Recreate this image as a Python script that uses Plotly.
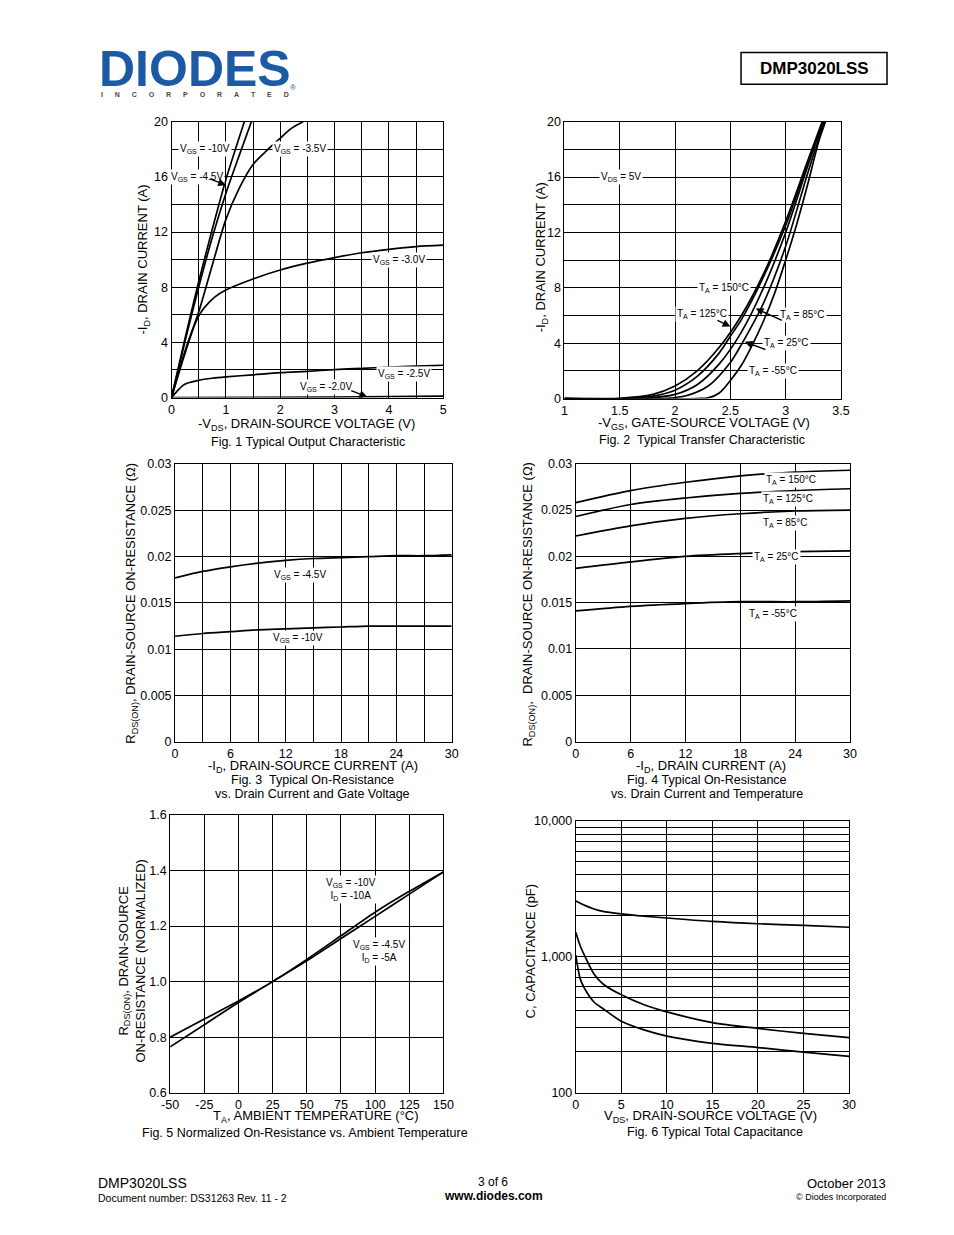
import plotly.graph_objects as go

PAGE_W, PAGE_H = 954, 1235
OFF = 8  # default body margin of the html page
W, H = PAGE_W - 2 * OFF, PAGE_H - 2 * OFF - 6
FONT = "Liberation Sans"

# ---------------- DATA ----------------
# Fig 1: output characteristic (-VDS, -ID)
f1_vgs10_v = [0, 0.25, 0.5, 0.75, 1.0, 1.2, 1.34]
f1_vgs10_i = [0, 4.3, 8.4, 12.2, 15.8, 18.3, 20]
f1_vgs45_v = [0, 0.25, 0.5, 0.75, 1.0, 1.25, 1.47]
f1_vgs45_i = [0, 4.1, 8.0, 11.6, 14.8, 17.6, 20]
f1_vgs35_v = [0, 0.25, 0.5, 0.75, 1.0, 1.25, 1.5, 1.75, 2.0, 2.2, 2.42]
f1_vgs35_i = [0, 3.4, 6.2, 9.6, 12.9, 15.2, 16.9, 17.9, 18.8, 19.5, 20]
f1_vgs30_v = [0, 0.2, 0.4, 0.5, 0.6, 0.8, 1.0, 1.5, 2.0, 2.5, 3.0, 3.5, 4.0, 4.5, 5.0]
f1_vgs30_i = [0, 2.6, 5.0, 5.9, 6.5, 7.3, 7.8, 8.6, 9.25, 9.75, 10.15, 10.5, 10.75, 10.95, 11.05]
f1_vgs25_v = [0, 0.1, 0.2, 0.3, 0.5, 0.75, 1.0, 1.5, 2.0, 2.5, 3.0, 3.5, 4.0, 4.5, 5.0]
f1_vgs25_i = [0, 0.45, 0.85, 1.05, 1.25, 1.4, 1.5, 1.65, 1.8, 1.9, 2.02, 2.12, 2.2, 2.28, 2.34]
f1_vgs20_v = [0, 2.0, 3.0, 4.0, 5.0]
f1_vgs20_i = [0, 0, 0.03, 0.06, 0.1]

# Fig 2: transfer characteristic (-VGS, -ID)
f2_t150_v = [1.0, 1.5, 1.8, 2.0, 2.2, 2.4, 2.6, 2.8, 3.0, 3.2, 3.33]
f2_t150_i = [0, 0.02, 0.3, 0.9, 2.0, 3.7, 6.0, 9.0, 12.8, 17.2, 20]
f2_t125_v = [1.0, 1.6, 1.85, 2.0, 2.2, 2.4, 2.5, 2.6, 2.8, 3.0, 3.2, 3.34]
f2_t125_i = [0, 0.02, 0.25, 0.6, 1.6, 3.3, 4.5, 5.7, 8.8, 12.5, 17.0, 20]
f2_t85_v = [1.0, 1.7, 2.0, 2.2, 2.4, 2.6, 2.8, 3.0, 3.2, 3.34]
f2_t85_i = [0, 0.0, 0.3, 1.0, 2.5, 4.8, 8.0, 12.0, 16.8, 20]
f2_t25_v = [1.0, 1.9, 2.1, 2.3, 2.5, 2.6, 2.8, 3.0, 3.2, 3.35]
f2_t25_i = [0, 0, 0.2, 0.9, 2.6, 3.9, 6.9, 11.0, 16.3, 20]
f2_tm55_v = [1.0, 2.2, 2.3, 2.4, 2.5, 2.6, 2.7, 2.8, 2.9, 3.0, 3.1, 3.2, 3.3, 3.36]
f2_tm55_i = [0, 0, 0.05, 0.4, 1.3, 2.4, 3.9, 5.6, 7.6, 10.0, 12.6, 15.5, 18.6, 20]

# Fig 3: RDS(on) vs ID and VGS
f3_id = [0, 3, 6, 9, 12, 15, 18, 21, 24, 27, 30]
f3_vgs45 = [0.0177, 0.0184, 0.0189, 0.0193, 0.0196, 0.0198, 0.0199, 0.0200, 0.0201, 0.0201, 0.0202]
f3_vgs10 = [0.0114, 0.0117, 0.0119, 0.0121, 0.0122, 0.0123, 0.0124, 0.0125, 0.0125, 0.0125, 0.0125]

# Fig 4: RDS(on) vs ID and temperature
f4_id = [0, 6, 12, 18, 24, 30]
f4_t150 = [0.0258, 0.0271, 0.0280, 0.0287, 0.0291, 0.0293]
f4_t125 = [0.0243, 0.0256, 0.0263, 0.0268, 0.0271, 0.0273]
f4_t85 = [0.0222, 0.0233, 0.0241, 0.0246, 0.0249, 0.0250]
f4_t25 = [0.0187, 0.0194, 0.0200, 0.0203, 0.0205, 0.0206]
f4_tm55 = [0.0141, 0.0146, 0.0149, 0.0151, 0.0151, 0.0152]

# Fig 5: normalized RDS(on) vs ambient temperature
f5_t = [-50, -25, 0, 25, 50, 75, 100, 125, 150]
f5_vgs10 = [0.80, 0.865, 0.93, 1.0, 1.08, 1.165, 1.25, 1.325, 1.395]
f5_vgs45 = [0.765, 0.845, 0.925, 1.0, 1.075, 1.155, 1.235, 1.315, 1.395]

# Fig 6: capacitance vs VDS
f6_v = [0, 0.5, 1, 2, 3, 5, 7.5, 10, 15, 20, 25, 30]
f6_ciss = [2576, 2480, 2390, 2250, 2160, 2070, 1990, 1930, 1820, 1750, 1705, 1650]
f6_coss = [1517, 1200, 1010, 747, 631, 525, 444, 393, 328, 297, 273, 254]
f6_crss = [1030, 685, 580, 465, 415, 336, 290, 261, 231, 215, 199, 185]

# tick labels
f3_yticks = [0, 0.005, 0.01, 0.015, 0.02, 0.025, 0.03]
f3_ytext = ["0", "0.005", "0.01", "0.015", "0.02", "0.025", "0.03"]
f5_xticks = [-50, -25, 0, 25, 50, 75, 100, 125, 150]
f5_xtext = ["-50", "-25", "0", "25", "50", "75", "100", "125", "150"]
f6_yticks = [100, 1000, 10000]
f6_ytext = ["100", "1,000", "10,000"]
f6_yminor = [200, 300, 400, 500, 600, 700, 800, 900,
             2000, 3000, 4000, 5000, 6000, 7000, 8000, 9000]

# ---------------- helpers ----------------
def px(x):
    return (x - OFF) / W


def py(y):
    return 1 - (y - OFF) / H


fig = go.Figure()
LW = 1.7


def curve(x, y, ax, shape="spline"):
    fig.add_trace(go.Scatter(x=x, y=y, mode="lines", xaxis=ax[0], yaxis=ax[1],
                             line=dict(color="black", width=LW, shape=shape,
                                       smoothing=0.8),
                             showlegend=False, hoverinfo="skip"))


A1 = ("x", "y")
A2 = ("x2", "y2")
A3 = ("x3", "y3")
A4 = ("x4", "y4")
A5 = ("x5", "y5")
A6 = ("x6", "y6")

curve(f1_vgs10_v, f1_vgs10_i, A1)
curve(f1_vgs45_v, f1_vgs45_i, A1)
curve(f1_vgs35_v, f1_vgs35_i, A1)
curve(f1_vgs30_v, f1_vgs30_i, A1)
curve(f1_vgs25_v, f1_vgs25_i, A1)
curve(f1_vgs20_v, f1_vgs20_i, A1, "linear")

for xv, yv in [(f2_t150_v, f2_t150_i), (f2_t125_v, f2_t125_i), (f2_t85_v, f2_t85_i),
               (f2_t25_v, f2_t25_i), (f2_tm55_v, f2_tm55_i)]:
    curve(xv, yv, A2)

curve(f3_id, f3_vgs45, A3)
curve(f3_id, f3_vgs10, A3)

for yv in [f4_t150, f4_t125, f4_t85, f4_t25, f4_tm55]:
    curve(f4_id, yv, A4)

curve(f5_t, f5_vgs10, A5)
curve(f5_t, f5_vgs45, A5)

curve(f6_v, f6_ciss, A6)
curve(f6_v, f6_coss, A6)
curve(f6_v, f6_crss, A6)

TICKF = dict(family=FONT, size=12.5, color="black")


def axis(domain, anchor, **kw):
    d = dict(domain=domain, anchor=anchor, showline=True, mirror=True,
             linecolor="black", linewidth=1, showgrid=True, gridcolor="black",
             gridwidth=1, zeroline=False, ticks="", tickfont=TICKF,
             fixedrange=True)
    d.update(kw)
    return d


def minor_grid(dt):
    return dict(dtick=dt, showgrid=True, gridcolor="black", gridwidth=1)


fig.update_layout(
    xaxis=axis([px(165.7), px(443)], "y", range=[0, 5], dtick=1, minor=minor_grid(0.5)),
    yaxis=axis([py(395), py(116)], "x", range=[0, 20], dtick=4, minor=minor_grid(2)),
    xaxis2=axis([px(566.7), px(849)], "y2", range=[1, 3.5], dtick=0.5),
    yaxis2=axis([py(396), py(116)], "x2", range=[0, 20], dtick=4, minor=minor_grid(2)),
    xaxis3=axis([px(169.3), px(451.7)], "y3", range=[0, 30], dtick=6, minor=minor_grid(3)),
    yaxis3=axis([py(743.3), py(462.3)], "x3", range=[0, 0.03], tickvals=f3_yticks,
                ticktext=f3_ytext),
    xaxis4=axis([px(578.3), px(858.3)], "y4", range=[0, 30], dtick=6),
    yaxis4=axis([py(743), py(462)], "x4", range=[0, 0.03], tickvals=f3_yticks,
                ticktext=f3_ytext),
    xaxis5=axis([px(164.3), px(443.3)], "y5", range=[-50, 150], tickvals=f5_xticks,
                ticktext=f5_xtext),
    yaxis5=axis([py(1098.3), py(817.3)], "x5", range=[0.6, 1.6], dtick=0.2,
                tickformat=".1f"),
    xaxis6=axis([px(578.3), px(857.3)], "y6", range=[0, 30], dtick=5),
    yaxis6=axis([py(1098.3), py(823.3)], "x6", type="log", range=[2, 4],
                tickvals=f6_yticks, ticktext=f6_ytext,
                minor=dict(tickvals=f6_yminor, showgrid=True, gridcolor="black",
                           gridwidth=1)),
)

ann = []


def lab(text, x, y, xr, yr, size=10, align="center"):
    ann.append(dict(text=text, x=x, y=y, xref=xr, yref=yr, showarrow=False,
                    bgcolor="white", borderpad=1, align=align,
                    font=dict(family=FONT, size=size, color="black")))


def arrow(x, y, ax_, ay_, xr, yr):
    ann.append(dict(text="", x=x, y=y, ax=ax_, ay=ay_, xref=xr, yref=yr,
                    axref=xr, ayref=yr, showarrow=True, arrowhead=2,
                    arrowsize=1.1, arrowwidth=1.4, arrowcolor="black"))


# Fig1 labels
lab("V<sub>GS</sub> = -10V", 0.62, 18, "x", "y")
lab("V<sub>GS</sub> = -4.5V", 0.47, 16, "x", "y")
arrow(1.0, 15.4, 0.68, 15.9, "x", "y")
lab("V<sub>GS</sub> = -3.5V", 2.37, 18, "x", "y")
lab("V<sub>GS</sub> = -3.0V", 4.18, 10, "x", "y")
lab("V<sub>GS</sub> = -2.5V", 4.27, 1.7, "x", "y")
lab("V<sub>GS</sub> = -2.0V", 2.84, 0.75, "x", "y")
arrow(3.6, 0.05, 3.28, 0.55, "x", "y")

# Fig2 labels
lab("V<sub>DS</sub> = 5V", 1.51, 16, "x2", "y2")
lab("T<sub>A</sub> = 150°C", 2.44, 8, "x2", "y2")
lab("T<sub>A</sub> = 125°C", 2.24, 6.1, "x2", "y2")
arrow(2.5, 5.2, 2.37, 5.7, "x2", "y2")
lab("T<sub>A</sub> = 85°C", 3.15, 6.0, "x2", "y2")
arrow(2.73, 6.5, 2.98, 5.6, "x2", "y2")
lab("T<sub>A</sub> = 25°C", 3.01, 4, "x2", "y2")
arrow(2.63, 4.1, 2.83, 3.5, "x2", "y2")
lab("T<sub>A</sub> = -55°C", 2.89, 2, "x2", "y2")

# Fig3 labels
lab("V<sub>GS</sub> = -4.5V", 13.6, 0.0180, "x3", "y3")
lab("V<sub>GS</sub> = -10V", 13.3, 0.0112, "x3", "y3")

# Fig4 labels
lab("T<sub>A</sub> = 150°C", 23.5, 0.0282, "x4", "y4")
lab("T<sub>A</sub> = 125°C", 23.2, 0.0262, "x4", "y4")
lab("T<sub>A</sub> = 85°C", 22.9, 0.0236, "x4", "y4")
lab("T<sub>A</sub> = 25°C", 21.9, 0.0199, "x4", "y4")
lab("T<sub>A</sub> = -55°C", 21.6, 0.0138, "x4", "y4")

# Fig5 labels
lab("V<sub>GS</sub> = -10V<br>I<sub>D</sub> = -10A", 82, 1.33, "x5", "y5")
lab("V<sub>GS</sub> = -4.5V<br>I<sub>D</sub> = -5A", 103, 1.107, "x5", "y5")

# Fig6 labels
lab("f = 1MHz", 19.5, 4300, "x6", "y6")
lab("C<sub>iss</sub>", 17.7, 1490, "x6", "y6")
lab("C<sub>oss</sub>", 18.4, 366, "x6", "y6")
lab("C<sub>rss</sub>", 16.4, 229, "x6", "y6")


def ptext(text, x, y, size=13, xanchor="center", angle=0, color="black",
          bold=False, align="center"):
    ann.append(dict(text=("<b>%s</b>" % text) if bold else text, x=px(x), y=py(y),
                    xref="paper", yref="paper", showarrow=False, xanchor=xanchor,
                    yanchor="middle", textangle=angle, align=align,
                    font=dict(family=FONT, size=size, color=color)))


# axis titles & captions
ptext("-I<sub>D</sub>, DRAIN CURRENT (A)", 137, 255, angle=-90)
ptext("-V<sub>DS</sub>, DRAIN-SOURCE VOLTAGE (V)", 303, 422)
ptext("Fig. 1 Typical Output Characteristic", 305, 440, size=12.5)

ptext("-I<sub>D</sub>, DRAIN CURRENT (A)", 543, 253, angle=-90)
ptext("-V<sub>GS</sub>, GATE-SOURCE VOLTAGE (V)", 709, 421)
ptext("Fig. 2  Typical Transfer Characteristic", 707, 438, size=12.5)

ptext("R<sub>DS(ON)</sub>, DRAIN-SOURCE ON-RESISTANCE (Ω)", 125, 603, angle=-90)
ptext("-I<sub>D</sub>, DRAIN-SOURCE CURRENT (A)", 310, 768)
ptext("Fig. 3  Typical On-Resistance", 310, 782, size=12.5)
ptext("vs. Drain Current and Gate Voltage", 310, 796, size=12.5)

ptext("R<sub>DS(ON)</sub>,  DRAIN-SOURCE ON-RESISTANCE (Ω)", 530, 604, angle=-90)
ptext("-I<sub>D</sub>, DRAIN CURRENT (A)", 716, 768)
ptext("Fig. 4 Typical On-Resistance", 712, 782, size=12.5)
ptext("vs. Drain Current and Temperature", 712, 796, size=12.5)

ptext("R<sub>DS(ON)</sub>, DRAIN-SOURCE<br>ON-RESISTANCE (NORMALIZED)", 125, 965,
      angle=-90)
ptext("T<sub>A</sub>, AMBIENT TEMPERATURE (°C)", 313, 1122)
ptext("Fig. 5 Normalized On-Resistance vs. Ambient Temperature", 302, 1139, size=12.5)

ptext("C, CAPACITANCE (pF)", 532, 955, angle=-90)
ptext("V<sub>DS</sub>, DRAIN-SOURCE VOLTAGE (V)", 716, 1122)
ptext("Fig. 6 Typical Total Capacitance", 720, 1138, size=12.5)

# header
BLUE = "#1c5aa6"
ptext("DIODES", 90, 63, size=50, xanchor="left", color=BLUE, bold=True)
ptext("\u2003\u2002\u2009".join("INCORPORATED"), 190, 88, size=7, color="#4d4a38",
      bold=True)
ptext("®", 290, 81, size=8, color=BLUE)
fig.add_shape(type="rect", xref="paper", yref="paper", x0=px(747), x1=px(896),
              y0=py(78), y1=py(46), line=dict(color="black", width=1.5))
ptext("DMP3020LSS", 821.5, 62, size=17, bold=True)

# footer
ptext("DMP3020LSS", 89, 1190, size=14, xanchor="left")
ptext("Document number: DS31263 Rev. 11 - 2", 89, 1205, size=10.5, xanchor="left")
ptext("3 of 6", 494, 1189, size=12)
ptext("www.diodes.com", 494, 1203, size=12, bold=True)
ptext("October 2013", 897, 1190, size=13, xanchor="right")
ptext("© Diodes Incorporated", 897, 1204, size=9, xanchor="right")

fig.update_layout(annotations=ann, width=W, height=H, autosize=False,
                  margin=dict(l=0, r=0, t=0, b=0), paper_bgcolor="white",
                  plot_bgcolor="white", showlegend=False,
                  font=dict(family=FONT, color="black"))

fig.write_html("out.html", config={"staticPlot": True})
